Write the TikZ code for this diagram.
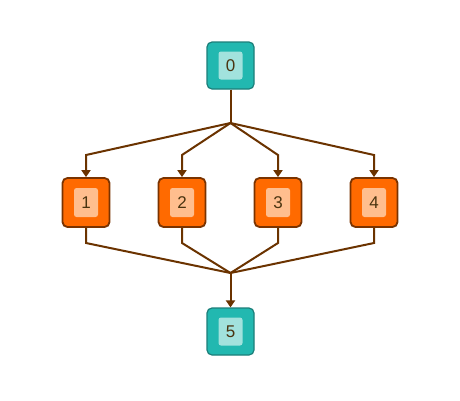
\documentclass[tikz,border=0pt]{standalone}
\usepackage{fontspec}
\setmainfont{Liberation Sans}
\usetikzlibrary{arrows.meta}
\definecolor{tealA}{HTML}{22B8B0}
\definecolor{tealB}{HTML}{1C7F7A}
\definecolor{tealC}{HTML}{A2E2DD}
\definecolor{orA}{HTML}{FF6A00}
\definecolor{orB}{HTML}{7A3300}
\definecolor{orC}{HTML}{FFBE8E}
\definecolor{edge}{HTML}{6B3300}
\definecolor{txt}{HTML}{4A3410}
\tikzset{
  tbox/.style={draw=tealB, fill=tealA, line width=1.2pt, rounded corners=5pt, minimum width=47pt, minimum height=47pt, inner sep=0pt},
  obox/.style={draw=orB, fill=orA, line width=1.8pt, rounded corners=5pt, minimum width=47pt, minimum height=49pt, inner sep=0pt},
  tlab/.style={fill=tealC, rounded corners=2.5pt, minimum width=24pt, minimum height=28pt, inner sep=0pt, text=txt, font=\fontsize{17}{17}\selectfont},
  olab/.style={fill=orC, rounded corners=2.5pt, minimum width=24pt, minimum height=29pt, inner sep=0pt, text=txt, font=\fontsize{17}{17}\selectfont},
  conn/.style={draw=edge, line width=2pt},
  arr/.style={conn, -{Triangle[length=7pt,width=9pt]}}
}
\begin{document}
\begin{tikzpicture}[x=1pt,y=-1pt]
\useasboundingbox[fill=white] (0,0) rectangle (460,400);
\node[tbox] (n0) at (230.5,65.5) {};
\node[tlab] (l0) at (n0) {0};
\foreach \i/\x in {1/86,2/182,3/278,4/374}{
  \node[obox] (n\i) at (\x,202.5) {};
  \node[olab] (l\i) at (n\i) {\i};
}
\node[tbox] (n5) at (230.5,331.5) {};
\node[tlab] (l5) at (n5) {5};
\coordinate (j0) at (230.5,123);
\coordinate (j1) at (230.5,273);
\draw[conn] (n0.south) -- (j0);
\foreach \i in {1,2,3,4}{
  \draw[arr] (j0) -- (n\i.north |- 0,155) -- (n\i.north);
  \draw[conn] (n\i.south) -- (n\i.south |- 0,243) -- (j1);
}
\draw[arr] (j1) -- (n5.north);
\end{tikzpicture}
\end{document}
